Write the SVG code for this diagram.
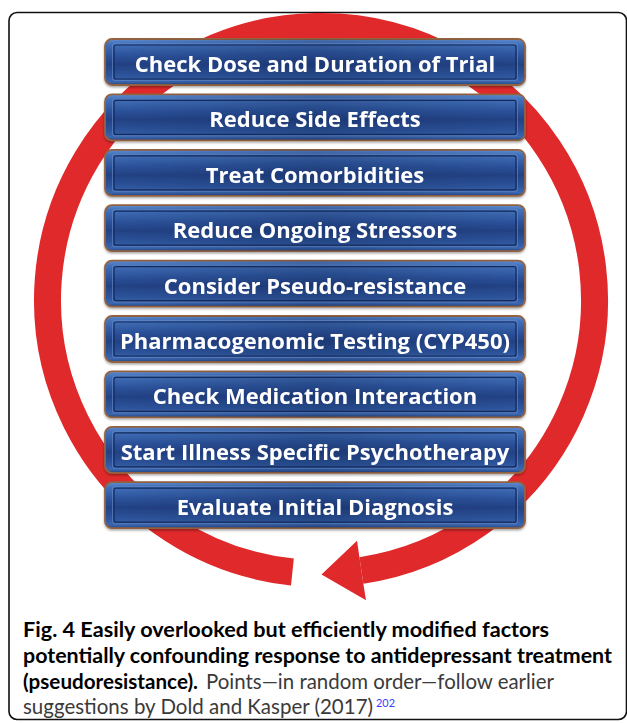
<svg xmlns="http://www.w3.org/2000/svg" width="627" height="723" viewBox="0 0 627 723">
  <defs>
    <linearGradient id="boxV" x1="0" y1="0" x2="0" y2="1">
      <stop offset="0" stop-color="#638fd3"/>
      <stop offset="0.1" stop-color="#4372bb"/>
      <stop offset="0.35" stop-color="#2d549d"/>
      <stop offset="0.55" stop-color="#234285"/>
      <stop offset="0.8" stop-color="#2e569e"/>
      <stop offset="0.93" stop-color="#3c67b0"/>
      <stop offset="1" stop-color="#234582"/>
    </linearGradient>
    <linearGradient id="boxH" x1="0" y1="0" x2="1" y2="0">
      <stop offset="0" stop-color="#0a1a40" stop-opacity="0"/>
      <stop offset="0.5" stop-color="#0a1a40" stop-opacity="0.25"/>
      <stop offset="1" stop-color="#0a1a40" stop-opacity="0"/>
    </linearGradient>
    <filter id="shadow" x="-5%" y="-20%" width="110%" height="150%">
      <feDropShadow dx="0" dy="1.5" stdDeviation="1.2" flood-color="#000" flood-opacity="0.35"/>
    </filter>
  </defs>
  <style>
    .box { fill: url(#boxV); stroke: #946340; stroke-width: 1.8; }
    .shade { fill: url(#boxH); stroke: none; }
    .inner { fill: none; stroke: #142a5a; stroke-width: 1.2; }
    .innerhi { fill: none; stroke: #6b90cf; stroke-width: 0.8; stroke-opacity: 0.7; }
    .label { font-family: "Open Sans", "Noto Sans", "Liberation Sans", sans-serif; font-weight: bold; font-size: 22px; fill: #ffffff; text-anchor: middle; }
    .ring { fill: none; stroke: #e0292b; stroke-width: 27; }
    .head { fill: #e0292b; }
    .cap { font-family: Lato, "Open Sans", "Liberation Sans", sans-serif; fill: #000000; }
    .capb { font-weight: bold; font-size: 21.5px; }
    .capr { fill: #3a3a3a; font-size: 20.6px; }
    .sup { font-family: Lato, "Open Sans", "Liberation Sans", sans-serif; font-size: 12px; fill: #3b3bff; }
  </style>

  <rect x="9" y="12.5" width="617.5" height="707" rx="8" ry="8" fill="#ffffff" stroke="#111111" stroke-width="1.6"/>

  <g id="connectors">
    <path class="ring" d="M 292.4 572 A 273.5 273.5 0 1 1 361.4 570.5"/>
    <polygon class="head" points="359.4,557.1 357,540.8 321.5,574.5 366,600.2 363.4,583.9"/>
  </g>

  <g id="node-1" filter="url(#shadow)">
    <rect class="box" x="105" y="39" width="420" height="46" rx="7"/>
    <rect class="shade" x="105" y="39" width="420" height="46" rx="7"/>
    <rect class="innerhi" x="112.5" y="43.5" width="405" height="37" rx="2"/>
    <rect class="inner" x="114" y="45" width="402" height="34" rx="2"/>
    <text class="label" x="315" y="72">Check Dose and Duration of Trial</text>
  </g>
  <g id="node-2" filter="url(#shadow)">
    <rect class="box" x="105" y="94.4" width="420" height="46" rx="7"/>
    <rect class="shade" x="105" y="94.4" width="420" height="46" rx="7"/>
    <rect class="innerhi" x="112.5" y="98.9" width="405" height="37" rx="2"/>
    <rect class="inner" x="114" y="100.4" width="402" height="34" rx="2"/>
    <text class="label" x="315" y="127.4">Reduce Side Effects</text>
  </g>
  <g id="node-3" filter="url(#shadow)">
    <rect class="box" x="105" y="149.8" width="420" height="46" rx="7"/>
    <rect class="shade" x="105" y="149.8" width="420" height="46" rx="7"/>
    <rect class="innerhi" x="112.5" y="154.3" width="405" height="37" rx="2"/>
    <rect class="inner" x="114" y="155.8" width="402" height="34" rx="2"/>
    <text class="label" x="315" y="182.8">Treat Comorbidities</text>
  </g>
  <g id="node-4" filter="url(#shadow)">
    <rect class="box" x="105" y="205.2" width="420" height="46" rx="7"/>
    <rect class="shade" x="105" y="205.2" width="420" height="46" rx="7"/>
    <rect class="innerhi" x="112.5" y="209.7" width="405" height="37" rx="2"/>
    <rect class="inner" x="114" y="211.2" width="402" height="34" rx="2"/>
    <text class="label" x="315" y="238.2">Reduce Ongoing Stressors</text>
  </g>
  <g id="node-5" filter="url(#shadow)">
    <rect class="box" x="105" y="260.6" width="420" height="46" rx="7"/>
    <rect class="shade" x="105" y="260.6" width="420" height="46" rx="7"/>
    <rect class="innerhi" x="112.5" y="265.1" width="405" height="37" rx="2"/>
    <rect class="inner" x="114" y="266.6" width="402" height="34" rx="2"/>
    <text class="label" x="315" y="293.6">Consider Pseudo-resistance</text>
  </g>
  <g id="node-6" filter="url(#shadow)">
    <rect class="box" x="105" y="316" width="420" height="46" rx="7"/>
    <rect class="shade" x="105" y="316" width="420" height="46" rx="7"/>
    <rect class="innerhi" x="112.5" y="320.5" width="405" height="37" rx="2"/>
    <rect class="inner" x="114" y="322" width="402" height="34" rx="2"/>
    <text class="label" x="315" y="349">Pharmacogenomic Testing (CYP450)</text>
  </g>
  <g id="node-7" filter="url(#shadow)">
    <rect class="box" x="105" y="371.4" width="420" height="46" rx="7"/>
    <rect class="shade" x="105" y="371.4" width="420" height="46" rx="7"/>
    <rect class="innerhi" x="112.5" y="375.9" width="405" height="37" rx="2"/>
    <rect class="inner" x="114" y="377.4" width="402" height="34" rx="2"/>
    <text class="label" x="315" y="404.4">Check Medication Interaction</text>
  </g>
  <g id="node-8" filter="url(#shadow)">
    <rect class="box" x="105" y="426.8" width="420" height="46" rx="7"/>
    <rect class="shade" x="105" y="426.8" width="420" height="46" rx="7"/>
    <rect class="innerhi" x="112.5" y="431.3" width="405" height="37" rx="2"/>
    <rect class="inner" x="114" y="432.8" width="402" height="34" rx="2"/>
    <text class="label" x="315" y="459.8">Start Illness Specific Psychotherapy</text>
  </g>
  <g id="node-9" filter="url(#shadow)">
    <rect class="box" x="105" y="482.2" width="420" height="46" rx="7"/>
    <rect class="shade" x="105" y="482.2" width="420" height="46" rx="7"/>
    <rect class="innerhi" x="112.5" y="486.7" width="405" height="37" rx="2"/>
    <rect class="inner" x="114" y="488.2" width="402" height="34" rx="2"/>
    <text class="label" x="315" y="515.2">Evaluate Initial Diagnosis</text>
  </g>

  <g id="caption">
    <text class="cap capb" x="23" y="637" textLength="526" lengthAdjust="spacingAndGlyphs">Fig. 4 Easily overlooked but efficiently modified factors</text>
    <text class="cap capb" x="23" y="663" textLength="589" lengthAdjust="spacingAndGlyphs">potentially confounding response to antidepressant treatment</text>
    <text class="cap capb" x="23" y="689" textLength="175" lengthAdjust="spacingAndGlyphs">(pseudoresistance).</text>
    <text class="cap capr" x="206" y="689" textLength="348" lengthAdjust="spacingAndGlyphs">Points—in random order—follow earlier</text>
    <text class="cap capr" x="23" y="714" textLength="350" lengthAdjust="spacingAndGlyphs">suggestions by Dold and Kasper (2017)</text>
    <text class="sup" x="376" y="707" textLength="19" lengthAdjust="spacingAndGlyphs">202</text>
  </g>
</svg>
